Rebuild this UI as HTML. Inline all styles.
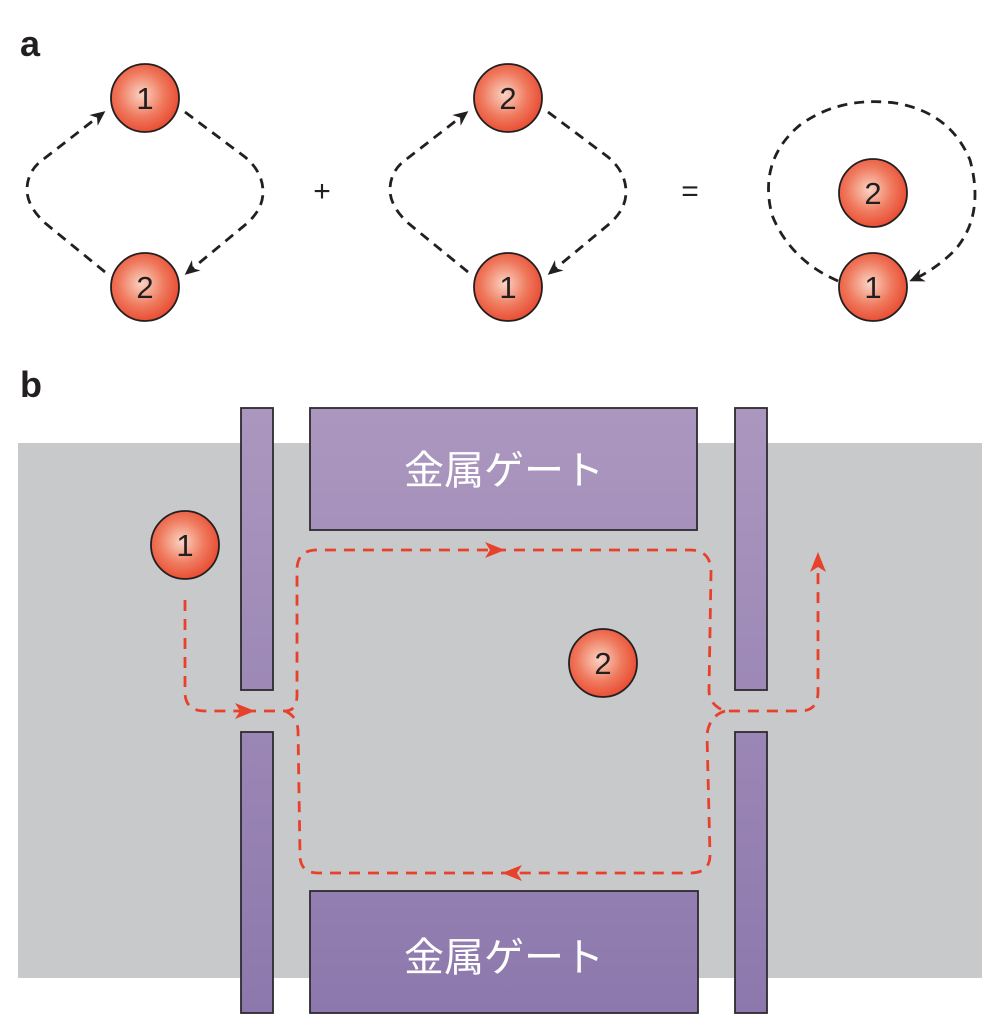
<!DOCTYPE html>
<html><head><meta charset="utf-8"><style>html,body{margin:0;padding:0;background:#fff}svg{display:block}</style></head><body>
<svg width="1000" height="1026" viewBox="0 0 1000 1026" xmlns="http://www.w3.org/2000/svg">
<defs>
<radialGradient id="ball" cx="0.45" cy="0.45" r="0.6">
<stop offset="0" stop-color="#fbd3c3"/><stop offset="0.55" stop-color="#ef7a5e"/><stop offset="1" stop-color="#e8452c"/>
</radialGradient>
<linearGradient id="pg" gradientUnits="userSpaceOnUse" x1="0" y1="408" x2="0" y2="1013">
<stop offset="0" stop-color="#ab97be"/><stop offset="1" stop-color="#8d78ad"/>
</linearGradient>
<marker id="ab" viewBox="0 0 10 10" refX="8" refY="5" markerWidth="15" markerHeight="15" orient="auto" markerUnits="userSpaceOnUse">
<path d="M0,0.5 L10,5 L0,9.5 L3,5 z" fill="#231f20"/></marker>
<marker id="ar" viewBox="0 0 10 10" refX="5" refY="5" markerWidth="20" markerHeight="20" orient="auto" markerUnits="userSpaceOnUse">
<path d="M0,1 L10,5 L0,9 L2.5,5 z" fill="#e8412b"/></marker>
<g id="loop" fill="none" stroke="#231f20" stroke-width="2.8" stroke-dasharray="10,7">
<path d="M-40,272 L-100,223 Q-118,206 -118,190 Q-118,170 -100,158 L-42,113" marker-end="url(#ab)"/>
<path d="M40,112 L100,157 Q118,172 118,192 Q118,210 100,225 L42,273" marker-end="url(#ab)"/>
</g>
</defs>
<g font-family="Liberation Sans, sans-serif" font-weight="bold" font-size="36" fill="#231f20">
<text x="20" y="56">a</text><text x="20" y="397">b</text></g>
<use href="#loop" transform="translate(145,0)"/>
<use href="#loop" transform="translate(508,0)"/>
<path d="M838,281 Q790,260 772,215 Q758,160 800,125 Q840,96 895,103 Q950,112 970,160 Q985,215 955,250 Q935,270 912,280" fill="none" stroke="#231f20" stroke-width="2.8" stroke-dasharray="10,7" marker-end="url(#ab)"/>
<g font-family="Liberation Sans, sans-serif" font-size="30" fill="#231f20" text-anchor="middle">
<text x="322" y="201">+</text><text x="690" y="201">=</text></g>
<g stroke="#231f20" stroke-width="1.8" fill="url(#ball)">
<circle cx="145" cy="98" r="34"/><circle cx="145" cy="287" r="34"/>
<circle cx="508" cy="98" r="34"/><circle cx="508" cy="287" r="34"/>
<circle cx="873" cy="193" r="34"/><circle cx="873" cy="287" r="34"/>
</g>
<g font-family="Liberation Sans, sans-serif" font-size="31" fill="#231f20" text-anchor="middle">
<text x="145" y="109">1</text><text x="145" y="298">2</text>
<text x="508" y="109">2</text><text x="508" y="298">1</text>
<text x="873" y="204">2</text><text x="873" y="298">1</text>
</g>
<rect x="18" y="443" width="964" height="535" fill="#c8c9cb"/>
<g fill="url(#pg)" stroke="#2d2a30" stroke-width="1.8">
<rect x="241" y="408" width="32" height="282"/><rect x="241" y="732" width="32" height="281"/>
<rect x="735" y="408" width="32" height="282"/><rect x="735" y="732" width="32" height="281"/>
<rect x="310" y="408" width="387" height="122"/><rect x="310" y="891" width="388" height="122"/>
</g>
<g font-family="Liberation Sans, 'Noto Sans CJK JP', sans-serif" font-size="40" fill="#fff" text-anchor="middle">
<text x="504" y="484">金属ゲート</text><text x="504" y="971">金属ゲート</text></g>
<g fill="none" stroke="#e8412b" stroke-width="2.8" stroke-dasharray="11,8">
<path d="M185,600 L185,692 Q185,711 205,711 L245,711" marker-end="url(#ar)"/>
<path d="M245,711 L285,711 Q297,711 297,695 L297,570 Q297,550 317,550 L495,550" marker-end="url(#ar)"/>
<path d="M495,550 L690,550 Q711,550 711,572 L709,690 Q709,705 725,711 L800,711 Q818,711 818,692 L818,562" marker-end="url(#ar)"/>
<path d="M725,711 Q709,716 707,735 L710,855 Q710,873 690,873 L512,873" marker-end="url(#ar)"/>
<path d="M512,873 L318,873 Q300,873 300,855 L298,730 Q297,716 285,711"/>
</g>
<g stroke="#231f20" stroke-width="1.8" fill="url(#ball)">
<circle cx="185" cy="545" r="34"/><circle cx="603" cy="663" r="34"/></g>
<g font-family="Liberation Sans, sans-serif" font-size="31" fill="#231f20" text-anchor="middle">
<text x="185" y="556">1</text><text x="603" y="674">2</text></g>
</svg>
</body></html>
